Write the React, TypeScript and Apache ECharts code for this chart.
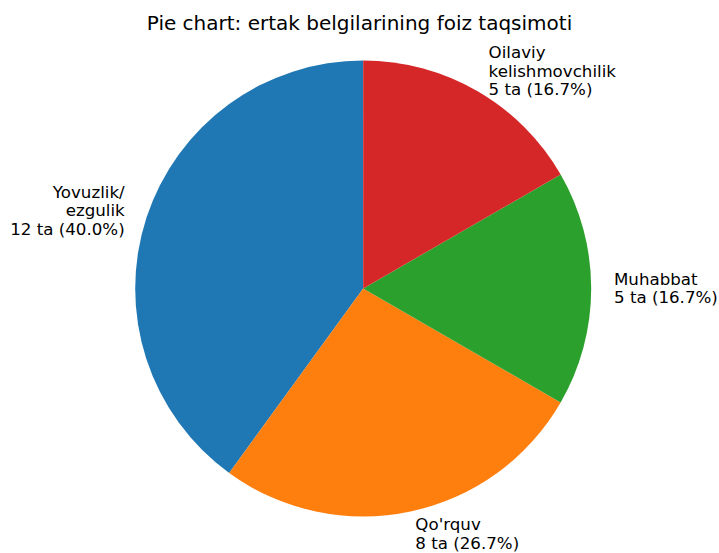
import React, { useEffect, useRef } from "react";
import * as echarts from "echarts";

const titleText = "Pie chart: ertak belgilarining foiz taqsimoti";
const categories = ["Yovuzlik/\nezgulik", "Qo'rquv", "Muhabbat", "Oilaviy\nkelishmovchilik"];
const values = [12, 8, 5, 5];
const colors = ["#1f77b4", "#ff7f0e", "#2ca02c", "#d62728"];

const CX = 363.2;
const CY = 288.5;
const R = 228;
const START = 90;

export default function App() {
  const ref = useRef<HTMLDivElement>(null);
  useEffect(() => {
    if (!ref.current) return;
    const chart = echarts.init(ref.current, null, { renderer: "svg" });
    const total = values.reduce((a, b) => a + b, 0);
    const mids: number[] = [];
    let acc = 0;
    values.forEach((v) => {
      const a0 = START + (acc / total) * 360;
      acc += v;
      const a1 = START + (acc / total) * 360;
      mids.push(((a0 + a1) / 2) * Math.PI / 180);
    });
    chart.setOption({
      animation: false,
      backgroundColor: "#ffffff",
      title: {
        text: titleText,
        left: "center",
        top: 8,
        textStyle: { fontFamily: "DejaVu Sans", fontSize: 20, fontWeight: "normal", color: "#000" },
      },
      series: [
        {
          type: "pie",
          center: [CX, CY],
          radius: [0, R],
          startAngle: START,
          clockwise: false,
          avoidLabelOverlap: false,
          minAngle: 0,
          itemStyle: { borderWidth: 0 },
          emphasis: { disabled: true },
          label: {
            show: true,
            position: "outside",
            fontFamily: "DejaVu Sans",
            fontSize: 16.67,
            lineHeight: 18.5,
            color: "#000",
            formatter: (p: any) =>
              `${p.name}\n${values[p.dataIndex]} ta (${((values[p.dataIndex] / total) * 100).toFixed(1)}%)`,
          },
          labelLine: { show: false },
          labelLayout: (p: any) => {
            const a = mids[p.dataIndex];
            const x = CX + 1.1 * R * Math.cos(a);
            const y = CY - 1.1 * R * Math.sin(a);
            return { x, y, align: x > CX ? "left" : "right", verticalAlign: "middle" };
          },
          data: categories.map((n, i) => ({ name: n, value: values[i], itemStyle: { color: colors[i] } })),
        },
      ],
    });
    return () => chart.dispose();
  }, []);
  return <div ref={ref} style={{ position: "fixed", left: 0, top: 0, width: 719, height: 553 }} />;
}
